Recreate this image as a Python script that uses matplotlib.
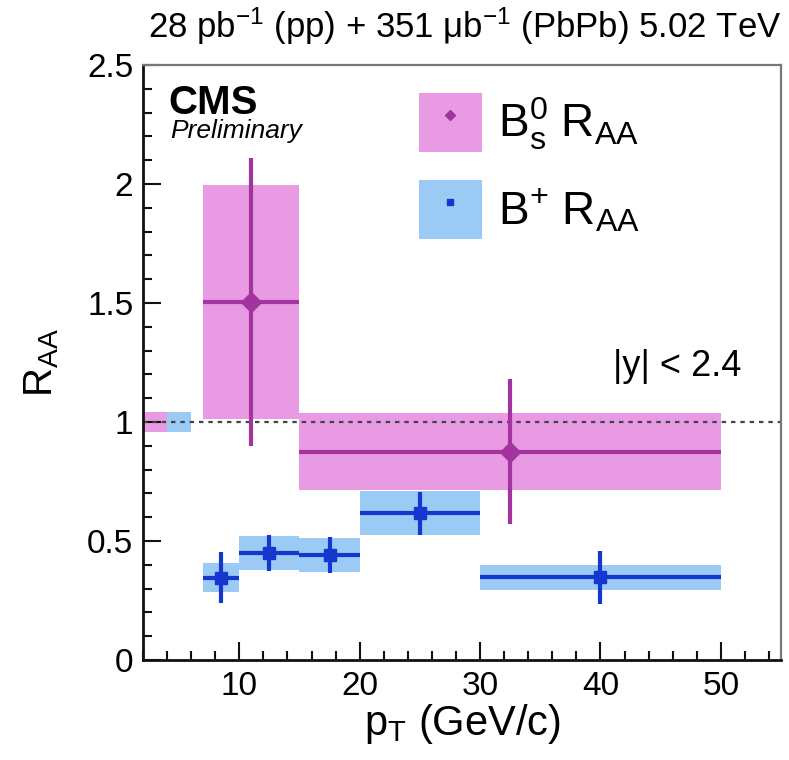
import matplotlib
matplotlib.use("Agg")
import matplotlib.pyplot as plt
from matplotlib.patches import Rectangle, Patch
from matplotlib.lines import Line2D
from matplotlib.ticker import MultipleLocator, FormatStrFormatter

plt.rcParams['font.family'] = ['Liberation Sans', 'DejaVu Sans']
plt.rcParams['mathtext.default'] = 'regular'

# ---- data ----
# B+ RAA
bp_lo = [7, 10, 15, 20, 30]
bp_hi = [10, 15, 20, 30, 50]
bp_x = [8.5, 12.5, 17.5, 25, 40]
bp_y = [0.345, 0.45, 0.441, 0.616, 0.347]
bp_stat = [0.107, 0.075, 0.075, 0.089, 0.112]
bp_syst = [0.061, 0.073, 0.070, 0.092, 0.053]

# Bs0 RAA
bs_lo = [7, 15]
bs_hi = [15, 50]
bs_x = [11, 32.5]
bs_y = [1.505, 0.875]
bs_stat = [0.605, 0.304]
bs_syst = [0.492, 0.162]

# global uncertainties (boxes at unity)
glob_bs = {"lo": 2, "hi": 4, "unc": 0.042}
glob_bp = {"lo": 4, "hi": 6, "unc": 0.042}

pink_box = '#E89BE3'
pink_line = '#A3339F'
blue_box = '#9BCBF5'
blue_line = '#1438CF'

fig = plt.figure(figsize=(7.89, 7.60), dpi=100)
ax = fig.add_axes([143/789, 100/760, 638/789, 595/760])

ax.set_xlim(2, 55)
ax.set_ylim(0, 2.5)

# global boxes
ax.add_patch(Rectangle((glob_bs["lo"], 1 - glob_bs["unc"]), glob_bs["hi"] - glob_bs["lo"],
                       2 * glob_bs["unc"], facecolor=pink_box, edgecolor='none', zorder=1))
ax.add_patch(Rectangle((glob_bp["lo"], 1 - glob_bp["unc"]), glob_bp["hi"] - glob_bp["lo"],
                       2 * glob_bp["unc"], facecolor=blue_box, edgecolor='none', zorder=1))

# syst boxes
for lo, hi, y, s in zip(bs_lo, bs_hi, bs_y, bs_syst):
    ax.add_patch(Rectangle((lo, y - s), hi - lo, 2 * s, facecolor=pink_box,
                           edgecolor='none', zorder=1))
for lo, hi, y, s in zip(bp_lo, bp_hi, bp_y, bp_syst):
    ax.add_patch(Rectangle((lo, y - s), hi - lo, 2 * s, facecolor=blue_box,
                           edgecolor='none', zorder=1))

# unity line
ax.axhline(1.0, color='#444444', lw=1.6, ls=(0, (2, 2.2)), zorder=2)

# points with stat errors
bs_xerr = [[x - lo for x, lo in zip(bs_x, bs_lo)], [hi - x for x, hi in zip(bs_x, bs_hi)]]
ax.errorbar(bs_x, bs_y, yerr=bs_stat, xerr=bs_xerr, fmt='D', color=pink_line,
            ms=10, lw=3, capsize=0, zorder=3)
bp_xerr = [[x - lo for x, lo in zip(bp_x, bp_lo)], [hi - x for x, hi in zip(bp_x, bp_hi)]]
ax.errorbar(bp_x, bp_y, yerr=bp_stat, xerr=bp_xerr, fmt='s', color=blue_line,
            ms=9, lw=3, capsize=0, zorder=3)

# axes styling
for side in ['left', 'bottom']:
    ax.spines[side].set_linewidth(2)
    ax.spines[side].set_color('#111111')
for side in ['top', 'right']:
    ax.spines[side].set_linewidth(1.6)
    ax.spines[side].set_color('#777777')

ax.xaxis.set_major_locator(MultipleLocator(10))
ax.xaxis.set_minor_locator(MultipleLocator(2))
ax.yaxis.set_major_locator(MultipleLocator(0.5))
ax.yaxis.set_minor_locator(MultipleLocator(0.1))
ax.yaxis.set_major_formatter(FormatStrFormatter('%g'))
ax.tick_params(which='both', direction='in', top=False, right=False, width=1.5,
               color='#111111')
ax.tick_params(which='major', length=13, labelsize=24)
ax.tick_params(axis='x', which='major', pad=8)
ax.tick_params(axis='y', which='major', pad=7)
ax.tick_params(which='minor', length=6.5)

ax.set_xlabel('p$_{T}$ (GeV/c)', fontsize=30, labelpad=0)
ax.set_ylabel('R$_{AA}$', fontsize=29, labelpad=19)

fig.text(781/789, 1 - 26/760, '28 pb$^{-1}$ (pp) + 351 \u03bcb$^{-1}$ (PbPb) 5.02 TeV',
         ha='right', va='center', fontsize=25)

ax.text(0.039, 0.968, 'CMS', transform=ax.transAxes, fontsize=29, fontweight='bold',
        ha='left', va='top')
ax.text(0.042, 0.909, 'Preliminary', transform=ax.transAxes, fontsize=19,
        fontstyle='italic', ha='left', va='top')
ax.text(0.737, 0.494, '|y| < 2.4', transform=ax.transAxes, fontsize=26,
        ha='left', va='center')

handles = [
    (Patch(facecolor=pink_box, edgecolor='none'),
     Line2D([], [], marker='D', color=pink_line, ls='none', ms=5)),
    (Patch(facecolor=blue_box, edgecolor='none'),
     Line2D([], [], marker='s', color=blue_line, ls='none', ms=5)),
]
labels = ['B$_s^0$ R$_{AA}$', 'B$^{+}$ R$_{AA}$']
ax.legend(handles, labels, loc='upper left', bbox_to_anchor=(0.432, 0.953),
          frameon=False, fontsize=33, handlelength=1.39, handleheight=1.62,
          handletextpad=0.35, labelspacing=0.6, borderpad=0, borderaxespad=0)

fig.savefig('out.png', dpi=100)
